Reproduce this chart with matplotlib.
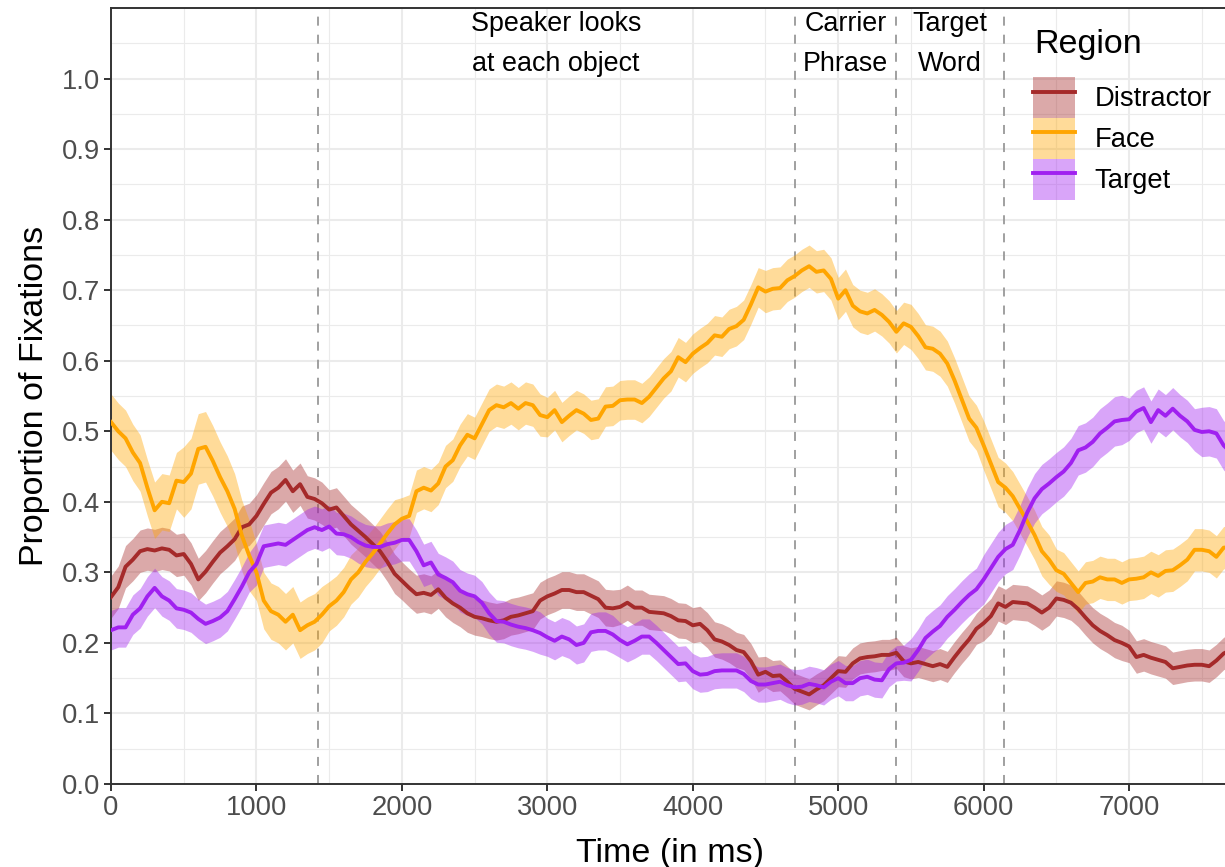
import numpy as np
import matplotlib
matplotlib.use('Agg')
import matplotlib.pyplot as plt
from matplotlib.patches import Patch
from matplotlib.lines import Line2D

plt.rcParams['font.family'] = ['Liberation Sans', 'DejaVu Sans']

# time bins (ms)
time_ms = np.arange(0, 7701, 50)

# proportion of fixations per region, every 50 ms
face = [0.513, 0.500, 0.490, 0.470, 0.455, 0.420, 0.388, 0.400, 0.398, 0.430,
        0.428, 0.440, 0.475, 0.478, 0.458, 0.435, 0.415, 0.390, 0.352, 0.324,
        0.300, 0.260, 0.245, 0.240, 0.230, 0.240, 0.218, 0.225, 0.230, 0.240,
        0.252, 0.260, 0.272, 0.290, 0.300, 0.315, 0.327, 0.341, 0.355, 0.368,
        0.376, 0.380, 0.415, 0.420, 0.416, 0.426, 0.450, 0.459, 0.480, 0.495,
        0.490, 0.510, 0.530, 0.537, 0.534, 0.540, 0.532, 0.540, 0.537, 0.523,
        0.520, 0.530, 0.513, 0.522, 0.530, 0.525, 0.516, 0.518, 0.535, 0.536,
        0.544, 0.545, 0.545, 0.540, 0.549, 0.562, 0.575, 0.585, 0.605, 0.598,
        0.610, 0.618, 0.625, 0.636, 0.634, 0.645, 0.649, 0.658, 0.680, 0.704,
        0.698, 0.702, 0.703, 0.714, 0.720, 0.728, 0.734, 0.726, 0.728, 0.716,
        0.688, 0.700, 0.678, 0.670, 0.667, 0.672, 0.665, 0.655, 0.641, 0.653,
        0.648, 0.635, 0.619, 0.617, 0.610, 0.596, 0.572, 0.545, 0.518, 0.505,
        0.480, 0.454, 0.428, 0.420, 0.408, 0.390, 0.372, 0.353, 0.330, 0.318,
        0.303, 0.298, 0.285, 0.272, 0.285, 0.287, 0.293, 0.290, 0.290, 0.285,
        0.290, 0.291, 0.293, 0.300, 0.295, 0.302, 0.303, 0.310, 0.318, 0.332,
        0.332, 0.330, 0.322, 0.335, 0.336]

distractor = [0.265, 0.279, 0.308, 0.318, 0.330, 0.333, 0.331, 0.334, 0.332, 0.324,
              0.326, 0.312, 0.290, 0.301, 0.315, 0.328, 0.337, 0.347, 0.364, 0.368,
              0.380, 0.397, 0.413, 0.420, 0.431, 0.415, 0.425, 0.407, 0.404, 0.398,
              0.389, 0.392, 0.380, 0.368, 0.359, 0.350, 0.340, 0.330, 0.315, 0.298,
              0.288, 0.278, 0.269, 0.271, 0.268, 0.276, 0.264, 0.256, 0.250, 0.242,
              0.237, 0.235, 0.232, 0.230, 0.232, 0.237, 0.239, 0.242, 0.245, 0.260,
              0.266, 0.270, 0.275, 0.275, 0.272, 0.272, 0.267, 0.262, 0.250, 0.249,
              0.251, 0.257, 0.250, 0.250, 0.244, 0.243, 0.242, 0.238, 0.232, 0.231,
              0.225, 0.227, 0.218, 0.205, 0.202, 0.197, 0.190, 0.187, 0.174, 0.155,
              0.159, 0.153, 0.154, 0.145, 0.135, 0.131, 0.127, 0.134, 0.140, 0.150,
              0.160, 0.159, 0.171, 0.178, 0.180, 0.181, 0.183, 0.183, 0.186, 0.174,
              0.171, 0.173, 0.170, 0.167, 0.170, 0.166, 0.180, 0.193, 0.205, 0.220,
              0.228, 0.238, 0.256, 0.251, 0.258, 0.257, 0.256, 0.250, 0.243, 0.250,
              0.263, 0.261, 0.257, 0.248, 0.236, 0.225, 0.217, 0.211, 0.204, 0.200,
              0.195, 0.180, 0.183, 0.179, 0.176, 0.173, 0.164, 0.166, 0.168, 0.169,
              0.169, 0.167, 0.175, 0.185, 0.190]

target = [0.218, 0.222, 0.222, 0.240, 0.249, 0.266, 0.278, 0.266, 0.260, 0.249,
          0.247, 0.243, 0.234, 0.227, 0.231, 0.236, 0.245, 0.262, 0.280, 0.300,
          0.312, 0.337, 0.339, 0.341, 0.339, 0.346, 0.353, 0.360, 0.364, 0.360,
          0.365, 0.355, 0.354, 0.350, 0.343, 0.338, 0.336, 0.336, 0.340, 0.342,
          0.346, 0.346, 0.330, 0.310, 0.314, 0.297, 0.292, 0.286, 0.274, 0.269,
          0.266, 0.257, 0.242, 0.231, 0.230, 0.226, 0.223, 0.221, 0.218, 0.214,
          0.208, 0.203, 0.209, 0.205, 0.197, 0.200, 0.215, 0.217, 0.217, 0.212,
          0.204, 0.198, 0.203, 0.209, 0.209, 0.200, 0.190, 0.180, 0.170, 0.171,
          0.160, 0.155, 0.156, 0.160, 0.161, 0.161, 0.161, 0.156, 0.146, 0.141,
          0.141, 0.143, 0.145, 0.140, 0.137, 0.138, 0.142, 0.140, 0.137, 0.145,
          0.150, 0.143, 0.143, 0.150, 0.152, 0.148, 0.147, 0.163, 0.171, 0.172,
          0.176, 0.190, 0.207, 0.216, 0.224, 0.237, 0.247, 0.258, 0.268, 0.276,
          0.290, 0.306, 0.322, 0.333, 0.339, 0.360, 0.385, 0.405, 0.418, 0.426,
          0.435, 0.443, 0.455, 0.473, 0.477, 0.485, 0.497, 0.505, 0.514, 0.516,
          0.517, 0.528, 0.533, 0.513, 0.530, 0.522, 0.532, 0.522, 0.514, 0.502,
          0.499, 0.500, 0.497, 0.480, 0.470]

# half-width of the ribbons, one value per 500 ms block
face_se = [0.040, 0.050, 0.040, 0.035, 0.030, 0.030, 0.028, 0.028,
           0.028, 0.030, 0.030, 0.032, 0.035, 0.030, 0.030, 0.030]
distractor_se = [0.030, 0.030, 0.030, 0.028, 0.027, 0.026, 0.026, 0.025,
                 0.025, 0.022, 0.022, 0.022, 0.025, 0.025, 0.023, 0.023]
target_se = [0.028, 0.028, 0.030, 0.030, 0.030, 0.030, 0.027, 0.025,
             0.025, 0.025, 0.025, 0.030, 0.035, 0.035, 0.030, 0.035]

# boundaries of the trial phases (ms) and their labels
phase_bounds = [1420, 4700, 5400, 6140]
phase_labels = [('Speaker looks', 'at each object'),
                ('Carrier', 'Phrase'),
                ('Target', 'Word')]

regions = ['Distractor', 'Face', 'Target']
colours = {'Distractor': '#A52A2A', 'Face': '#FFA500', 'Target': '#A020F0'}


def blockSe(se, n):
    """ repeat the per-500ms half widths over the 50ms bins """
    return np.repeat(np.array(se), 10)[:n]


fig = plt.figure(figsize=(12.25, 8.67), dpi=100)
ax = fig.add_axes([111/1225, 83/867, (1228-111)/1225, (784-8)/867])

ax.set_xlim(0, 7680)
ax.set_ylim(0, 1.1)

# ... grid, theme_bw style ...
ax.set_xticks(np.arange(0, 7001, 1000))
ax.set_xticks(np.arange(500, 7700, 1000), minor=True)
ax.set_yticks(np.arange(0, 1.01, 0.1))
ax.set_yticks(np.arange(0.05, 1.1, 0.1), minor=True)
ax.set_yticklabels(['{:.1f}'.format(v) for v in np.arange(0, 1.01, 0.1)])
ax.grid(which='major', color='#EBEBEB', lw=1.5, zorder=0)
ax.grid(which='minor', color='#EBEBEB', lw=0.8, zorder=0)
ax.set_axisbelow(True)
ax.tick_params(which='major', length=5, width=1.4, color='#333333',
               labelcolor='#4D4D4D', labelsize=19.7, pad=3)
ax.tick_params(which='minor', length=0)
for s in ax.spines.values():
    s.set_color('#333333')
    s.set_linewidth(1.4)

# ... phase boundaries and labels ...
for b in phase_bounds:
    ax.axvline(b, color='#999999', lw=1.3, ls=(0, (5, 5)), zorder=1)
for j, (top, bot) in enumerate(phase_labels):
    xc = (phase_bounds[j] + phase_bounds[j+1]) / 2
    ax.text(xc, 1.077, top, ha='center', va='center', fontsize=19.4, color='black')
    ax.text(xc, 1.020, bot, ha='center', va='center', fontsize=19.4, color='black')

# ... ribbons and lines ...
series = {'Distractor': (distractor, distractor_se),
          'Face': (face, face_se),
          'Target': (target, target_se)}
n = len(time_ms)
for r in regions:
    y, se = series[r]
    y = np.array(y)
    hw = blockSe(se, n)
    ax.fill_between(time_ms, y - hw, y + hw, color=colours[r], alpha=0.4,
                    lw=0, zorder=2)
for r in regions:
    y, se = series[r]
    ax.plot(time_ms, y, color=colours[r], lw=2.8, zorder=3)

ax.set_xlabel('Time (in ms)', fontsize=24.5, labelpad=12)
ax.set_ylabel('Proportion of Fixations', fontsize=24.5, labelpad=8)

# ... legend (title drawn separately to get the ggplot spacing) ...
fig.text(1034/1225, 1 - 45/867, 'Region', fontsize=24.5, ha='left', va='center')
handles = [(Patch(facecolor=colours[r], alpha=0.4, lw=0),
            Line2D([], [], color=colours[r], lw=2.8)) for r in regions]
leg = ax.legend(handles, regions, loc='upper left',
                bbox_to_anchor=(1033/1225, 1 - 77/867),
                bbox_transform=fig.transFigure, frameon=False,
                fontsize=19.7, borderpad=0,
                handlelength=1.55, handleheight=1.92, labelspacing=0.0,
                handletextpad=0.7, borderaxespad=0)

fig.savefig('out.png', dpi=100)
